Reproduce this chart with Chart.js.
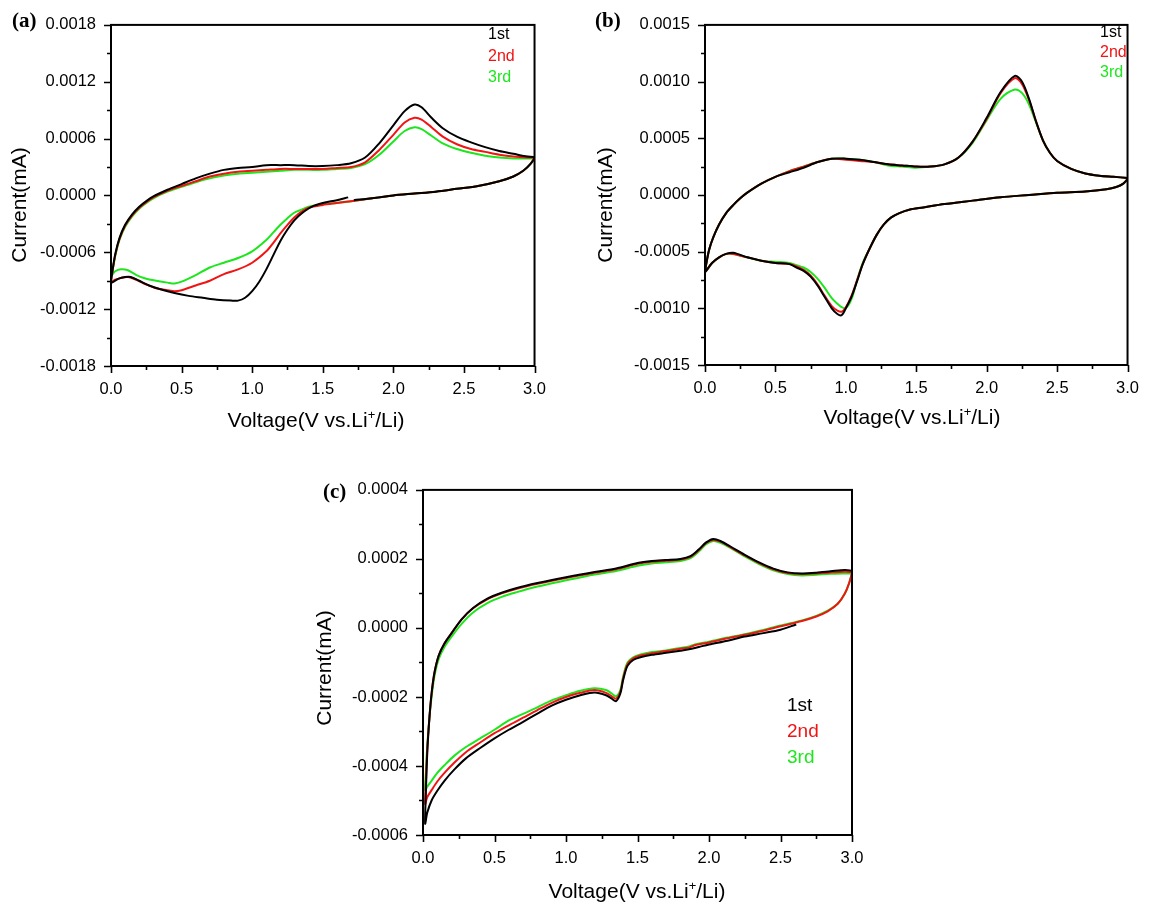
<!DOCTYPE html>
<html>
<head>
<meta charset="utf-8">
<script src="https://cdn.jsdelivr.net/npm/chart.js@4.4.1/dist/chart.umd.min.js"></script>
<style>
  html, body { margin: 0; padding: 0; background: #fff; }
  #wrap { position: relative; width: 1153px; height: 904px; overflow: hidden; }
  canvas { position: absolute; }
</style>
</head>
<body>
<div id="wrap">
  <canvas id="chartA" style="left:0px;top:0px;width:560px;height:440px" width="560" height="440"></canvas>
  <canvas id="chartB" style="left:580px;top:0px;width:573px;height:440px" width="573" height="440"></canvas>
  <canvas id="chartC" style="left:300px;top:465px;width:580px;height:439px" width="580" height="439"></canvas>
</div>
<script>
// series names (legend) //
const cycles = ["1st", "2nd", "3rd"];

// ---- panel (a) ----
// 1st cycle: from OCV down to 0 V, up to 3 V, back down
const a1V = [1.68, 1.6, 1.5, 1.42, 1.35, 1.3, 1.25, 1.2, 1.15, 1.1, 1.05, 1.0, 0.95, 0.9, 0.85, 0.75, 0.65, 0.55, 0.45, 0.35, 0.27, 0.2, 0.14, 0.1, 0.05, 0.0,
  0.01, 0.03, 0.06, 0.1, 0.15, 0.2, 0.25, 0.3, 0.4, 0.5, 0.6, 0.7, 0.8, 0.9, 1.0, 1.1, 1.2, 1.3, 1.4, 1.5, 1.6, 1.7, 1.8, 1.9, 2.0, 2.08, 2.15, 2.2, 2.27, 2.35, 2.45, 2.55, 2.65, 2.75, 2.85, 2.95, 3.0,
  2.97, 2.92, 2.85, 2.75, 2.6, 2.45, 2.3, 2.15, 2.0, 1.85, 1.72];
const a1I = [-0.00002, -0.00005, -0.00008, -0.00012, -0.00019, -0.00026, -0.00036, -0.00048, -0.00063, -0.00078, -0.00091, -0.00101, -0.00108, -0.00111, -0.00111, -0.0011, -0.00108, -0.00106, -0.00103, -0.00099, -0.00095, -0.0009, -0.00086, -0.00086, -0.00088, -0.00092,
  -0.0008, -0.00062, -0.00045, -0.00031, -0.0002, -0.00012, -0.00006, -0.00001, 0.00006, 0.00012, 0.00018, 0.00023, 0.00027, 0.00029, 0.0003, 0.00032, 0.00032, 0.00032, 0.00031, 0.00031, 0.00032, 0.00034, 0.0004, 0.00055, 0.00074, 0.00089, 0.00096, 0.00093, 0.00082, 0.00071, 0.00062, 0.00056, 0.00051, 0.00047, 0.00044, 0.00041, 0.0004,
  0.00033, 0.00026, 0.0002, 0.00015, 0.0001, 0.00007, 0.00004, 0.00002, 0.0, -0.00003, -0.00005];
// 2nd / 3rd cycles share the voltage points
const aV = [3.0, 2.97, 2.92, 2.85, 2.75, 2.6, 2.45, 2.3, 2.15, 2.0, 1.85, 1.7, 1.6, 1.5, 1.4, 1.35, 1.3, 1.25, 1.2, 1.15, 1.1, 1.0, 0.9, 0.8, 0.7, 0.6, 0.5, 0.45, 0.4, 0.32, 0.25, 0.18, 0.12, 0.07, 0.03, 0.0,
  0.01, 0.03, 0.06, 0.1, 0.15, 0.2, 0.25, 0.3, 0.4, 0.5, 0.6, 0.7, 0.8, 0.9, 1.0, 1.1, 1.2, 1.3, 1.4, 1.5, 1.6, 1.7, 1.8, 1.9, 2.0, 2.08, 2.15, 2.2, 2.27, 2.35, 2.45, 2.55, 2.65, 2.75, 2.85, 2.95, 3.0];
const a2I = [0.0004, 0.00033, 0.00026, 0.0002, 0.00015, 0.0001, 0.00007, 0.00004, 0.00002, 0.0, -0.00003, -0.00006, -0.00008, -0.0001, -0.00013, -0.00017, -0.00023, -0.00031, -0.0004, -0.0005, -0.00059, -0.00071, -0.00078, -0.00083, -0.0009, -0.00095, -0.001, -0.00101, -0.001, -0.00098, -0.00094, -0.00089, -0.00086, -0.00087, -0.00089, -0.00091,
  -0.0008, -0.00063, -0.00046, -0.00032, -0.00021, -0.00013, -0.00007, -0.00002, 0.00005, 0.0001, 0.00015, 0.0002, 0.00023, 0.00025, 0.00026, 0.00027, 0.00028, 0.00028, 0.00028, 0.00028, 0.00029, 0.0003, 0.00035, 0.00048, 0.00064, 0.00077, 0.00082, 0.0008, 0.00072, 0.00062, 0.00054, 0.00049, 0.00046, 0.00043, 0.00041, 0.0004, 0.0004];
const a3I = [0.0004, 0.00033, 0.00026, 0.0002, 0.00015, 0.0001, 0.00007, 0.00004, 0.00002, 0.0, -0.00003, -0.00006, -0.00008, -0.00009, -0.00012, -0.00015, -0.00018, -0.00024, -0.00031, -0.00039, -0.00047, -0.00059, -0.00066, -0.00071, -0.00076, -0.00084, -0.00091, -0.00093, -0.00092, -0.0009, -0.00088, -0.00084, -0.00079, -0.00078, -0.0008, -0.00085,
  -0.0008, -0.00064, -0.00047, -0.00033, -0.00022, -0.00014, -0.00008, -0.00003, 0.00004, 0.00009, 0.00014, 0.00018, 0.00021, 0.00023, 0.00024, 0.00025, 0.00026, 0.00027, 0.00027, 0.00027, 0.00028, 0.00029, 0.00033, 0.00043, 0.00057, 0.00068, 0.00072, 0.0007, 0.00063, 0.00055, 0.00049, 0.00045, 0.00042, 0.0004, 0.00039, 0.00039, 0.00039];

// ---- panel (b) ----
const bV = [3.0, 2.97, 2.92, 2.85, 2.7, 2.5, 2.3, 2.1, 1.9, 1.7, 1.55, 1.45, 1.38, 1.32, 1.27, 1.22, 1.17, 1.12, 1.08, 1.04, 1.0, 0.97, 0.94, 0.9, 0.85, 0.8, 0.75, 0.7, 0.65, 0.6, 0.5, 0.4, 0.3, 0.2, 0.15, 0.1, 0.05, 0.0,
  0.01, 0.03, 0.06, 0.1, 0.15, 0.2, 0.25, 0.3, 0.4, 0.5, 0.6, 0.7, 0.8, 0.9, 1.0, 1.1, 1.2, 1.3, 1.4, 1.5, 1.6, 1.7, 1.8, 1.9, 2.0, 2.1, 2.2, 2.25, 2.3, 2.35, 2.4, 2.45, 2.5, 2.6, 2.7, 2.8, 2.9, 3.0];
const b1I = [0.00014, 0.0001, 0.00007, 0.00005, 0.00003, 0.00002, 0.0, -0.00002, -0.00005, -0.00008, -0.00011, -0.00013, -0.00016, -0.0002, -0.00026, -0.00035, -0.00047, -0.00061, -0.00076, -0.0009, -0.001, -0.00106, -0.00105, -0.001, -0.0009, -0.0008, -0.00072, -0.00067, -0.00064, -0.00061, -0.0006, -0.00058, -0.00055, -0.00051, -0.00052, -0.00055, -0.0006, -0.00068,
  -0.0006, -0.00048, -0.00037, -0.00026, -0.00016, -0.00009, -0.00003, 0.00002, 0.0001, 0.00016, 0.0002, 0.00024, 0.00029, 0.00032, 0.00032, 0.00031, 0.00029, 0.00027, 0.00026, 0.00025, 0.00025, 0.00027, 0.00033, 0.00047, 0.00068, 0.00091, 0.00105, 0.001, 0.00085, 0.00065, 0.00048, 0.00037, 0.0003, 0.00023, 0.00019, 0.00017, 0.00016, 0.00015];
const b2I = [0.00014, 0.0001, 0.00007, 0.00005, 0.00003, 0.00002, 0.0, -0.00002, -0.00005, -0.00008, -0.00011, -0.00013, -0.00016, -0.0002, -0.00026, -0.00035, -0.00047, -0.00061, -0.00075, -0.00089, -0.00099, -0.00103, -0.00102, -0.00098, -0.00089, -0.00079, -0.00071, -0.00066, -0.00063, -0.00061, -0.0006, -0.00058, -0.00055, -0.00052, -0.00052, -0.00055, -0.0006, -0.00068,
  -0.0006, -0.00048, -0.00037, -0.00026, -0.00016, -0.00009, -0.00003, 0.00002, 0.0001, 0.00016, 0.00021, 0.00025, 0.00029, 0.00032, 0.00031, 0.0003, 0.00029, 0.00027, 0.00026, 0.00025, 0.00025, 0.00027, 0.00033, 0.00047, 0.00067, 0.0009, 0.00103, 0.00098, 0.00084, 0.00065, 0.00048, 0.00037, 0.0003, 0.00023, 0.00019, 0.00017, 0.00016, 0.00015];
const b3I = [0.00014, 0.0001, 0.00007, 0.00005, 0.00003, 0.00002, 0.0, -0.00002, -0.00005, -0.00008, -0.00011, -0.00013, -0.00016, -0.0002, -0.00026, -0.00035, -0.00047, -0.0006, -0.00075, -0.00092, -0.001, -0.00099, -0.00096, -0.00091, -0.00082, -0.00074, -0.00068, -0.00064, -0.00062, -0.0006, -0.00059, -0.00058, -0.00055, -0.00052, -0.00052, -0.00055, -0.0006, -0.00068,
  -0.0006, -0.00048, -0.00037, -0.00026, -0.00016, -0.00009, -0.00003, 0.00002, 0.0001, 0.00016, 0.00021, 0.00025, 0.00029, 0.00032, 0.00032, 0.00031, 0.00029, 0.00026, 0.00025, 0.00024, 0.00025, 0.00027, 0.00033, 0.00046, 0.00066, 0.00085, 0.00093, 0.0009, 0.0008, 0.00064, 0.00048, 0.00037, 0.0003, 0.00023, 0.00019, 0.00017, 0.00016, 0.00015];

// ---- panel (c) ----
// 1st cycle starts at OCV (~2.6 V)
const c1V = [2.61, 2.5, 2.38, 2.25, 2.13, 2.0, 1.93, 1.86, 1.8, 1.7, 1.6, 1.52, 1.47, 1.43, 1.4, 1.38, 1.35, 1.32, 1.28, 1.2, 1.1, 1.0, 0.9, 0.8, 0.7, 0.6, 0.5, 0.4, 0.3, 0.22, 0.15, 0.1, 0.06, 0.03, 0.015,
  0.02, 0.03, 0.045, 0.06, 0.08, 0.11, 0.15, 0.2, 0.27, 0.35, 0.45, 0.55, 0.65, 0.8, 1.0, 1.2, 1.35, 1.5, 1.6, 1.7, 1.8, 1.87, 1.93, 1.98, 2.03, 2.08, 2.15, 2.25, 2.35, 2.45, 2.55, 2.65, 2.75, 2.85, 2.95, 3.0];
const c1I = [0.00001, -0.000005, -0.000015, -0.000025, -0.000037, -0.000048, -0.000055, -0.000062, -0.000066, -0.000072, -0.000078, -0.000085, -0.000093, -0.00011, -0.00015, -0.00019, -0.000212, -0.000205, -0.000195, -0.000187, -0.000195, -0.000208, -0.000225, -0.000248, -0.000272, -0.000295, -0.00032, -0.000348, -0.000378, -0.00041, -0.000443, -0.000472, -0.0005, -0.000535, -0.000567,
  -0.00048, -0.00036, -0.00026, -0.00019, -0.00013, -0.00008, -0.000045, -0.000015, 0.000025, 0.000058, 0.000085, 0.000102, 0.000115, 0.00013, 0.000147, 0.000162, 0.000172, 0.000188, 0.000194, 0.000197, 0.0002, 0.000208, 0.000228, 0.000248, 0.000258, 0.000252, 0.000236, 0.000212, 0.00019, 0.000172, 0.000161, 0.000158, 0.00016, 0.000164, 0.000168, 0.000166];
const cV = [3.0, 2.98, 2.95, 2.9, 2.83, 2.75, 2.65, 2.5, 2.38, 2.25, 2.13, 2.0, 1.9, 1.86, 1.8, 1.7, 1.6, 1.52, 1.47, 1.43, 1.4, 1.38, 1.35, 1.32, 1.28, 1.2, 1.1, 1.0, 0.9, 0.8, 0.7, 0.6, 0.5, 0.4, 0.3, 0.22, 0.15, 0.1, 0.06, 0.03, 0.015,
  0.02, 0.03, 0.045, 0.06, 0.08, 0.11, 0.15, 0.2, 0.27, 0.35, 0.45, 0.55, 0.65, 0.8, 1.0, 1.2, 1.35, 1.5, 1.6, 1.7, 1.8, 1.87, 1.93, 1.98, 2.03, 2.08, 2.15, 2.25, 2.35, 2.45, 2.55, 2.65, 2.75, 2.85, 2.95, 3.0];
const c2I = [0.00016, 0.00013, 0.0001, 0.00007, 0.000048, 0.000033, 0.00002, 0.000005, -0.000008, -0.00002, -0.00003, -0.000042, -0.00005, -0.000057, -0.00006, -0.000067, -0.000073, -0.00008, -0.000088, -0.000105, -0.000145, -0.000185, -0.000205, -0.000198, -0.000188, -0.00018, -0.000188, -0.0002, -0.000217, -0.000238, -0.00026, -0.000282, -0.000305, -0.000332, -0.00036, -0.00039, -0.00042, -0.000445, -0.00047, -0.00049, -0.00051,
  -0.00045, -0.00035, -0.00026, -0.00019, -0.00013, -0.00008, -0.000045, -0.000015, 0.000025, 0.000057, 0.000083, 0.0001, 0.000113, 0.000128, 0.000145, 0.00016, 0.00017, 0.000186, 0.000192, 0.000195, 0.000198, 0.000206, 0.000226, 0.000246, 0.000255, 0.00025, 0.000234, 0.00021, 0.000188, 0.00017, 0.000159, 0.000156, 0.000158, 0.000161, 0.000163, 0.000162];
const c3I = [0.000158, 0.00013, 0.0001, 0.00007, 0.00005, 0.000035, 0.000022, 0.000007, -0.000006, -0.000018, -0.000028, -0.00004, -0.000048, -0.000054, -0.000058, -0.000065, -0.00007, -0.000077, -0.000085, -0.0001, -0.00014, -0.00018, -0.000198, -0.00019, -0.00018, -0.000175, -0.000182, -0.000195, -0.00021, -0.00023, -0.000249, -0.000268, -0.000295, -0.00032, -0.000345, -0.00037, -0.000398, -0.00042, -0.000443, -0.00046, -0.00047,
  -0.00042, -0.00034, -0.00026, -0.0002, -0.00014, -0.00009, -0.000055, -0.000025, 0.000012, 0.000045, 0.000072, 0.00009, 0.000103, 0.00012, 0.000138, 0.000155, 0.000165, 0.00018, 0.000187, 0.00019, 0.000194, 0.000202, 0.000222, 0.000243, 0.000252, 0.000247, 0.000232, 0.000207, 0.000185, 0.000167, 0.000156, 0.000152, 0.000154, 0.000157, 0.000158, 0.000158];

const colors = ["#000000", "#f01414", "#1ee61e"];
const sans = "'Liberation Sans', Arial, sans-serif";
const serif = "'Liberation Serif', 'Times New Roman', serif";

function pts(vs, is) {
  return vs.map(function (v, k) { return { x: v, y: is[k] }; });
}

function isMajor(v, step) {
  const r = v / step;
  return Math.abs(r - Math.round(r)) < 1e-6;
}

// frame, outward ticks, axis titles, legend text and panel letter
const decoPlugin = {
  id: "deco",
  afterDraw(chart, args, o) {
    const ctx = chart.ctx;
    const a = chart.chartArea;
    const xs = chart.scales.x, ys = chart.scales.y;
    ctx.save();
    ctx.strokeStyle = "#000";
    ctx.lineWidth = 1.6;
    ctx.beginPath();
    xs.ticks.forEach(function (t) {
      const p = Math.round(xs.getPixelForValue(t.value)) + 0.5;
      const len = isMajor(t.value, 0.5) ? 7 : 4;
      ctx.moveTo(p, a.bottom);
      ctx.lineTo(p, a.bottom + len);
    });
    ys.ticks.forEach(function (t) {
      const p = Math.round(ys.getPixelForValue(t.value)) + 0.5;
      const len = isMajor(t.value, o.yMajor) ? 7 : 4;
      ctx.moveTo(a.left, p);
      ctx.lineTo(a.left - len, p);
    });
    ctx.stroke();
    ctx.lineWidth = 2;
    ctx.strokeRect(a.left, a.top, a.right - a.left, a.bottom - a.top);

    // legend
    ctx.font = o.legendSize + "px " + sans;
    ctx.textAlign = "left";
    ctx.textBaseline = "middle";
    cycles.forEach(function (name, k) {
      ctx.fillStyle = colors[k];
      ctx.fillText(name, o.legendX, o.legendY + k * o.legendGap);
    });

    // y title
    ctx.fillStyle = "#000";
    ctx.save();
    ctx.translate(o.yTitle[0], o.yTitle[1]);
    ctx.rotate(-Math.PI / 2);
    ctx.font = o.titleSize + "px " + sans;
    ctx.textAlign = "center";
    ctx.textBaseline = "alphabetic";
    ctx.fillText("Current(mA)", 0, o.titleSize * 0.26);
    ctx.restore();

    // x title with superscript +
    const s = o.titleSize, ss = Math.round(s * 0.62);
    const p1 = "Voltage(V vs.Li", p2 = "+", p3 = "/Li)";
    ctx.font = s + "px " + sans;
    const w1 = ctx.measureText(p1).width, w3 = ctx.measureText(p3).width;
    ctx.font = ss + "px " + sans;
    const w2 = ctx.measureText(p2).width;
    let x = o.xTitle[0] - (w1 + w2 + w3) / 2;
    const base = o.xTitle[1] + s * 0.26;
    ctx.textAlign = "left";
    ctx.textBaseline = "alphabetic";
    ctx.font = s + "px " + sans;
    ctx.fillText(p1, x, base);
    x += w1;
    ctx.font = ss + "px " + sans;
    ctx.fillText(p2, x, base - s * 0.42);
    x += w2;
    ctx.font = s + "px " + sans;
    ctx.fillText(p3, x, base);

    // panel letter
    ctx.font = "bold 21px " + serif;
    ctx.fillText(o.letter, o.letterPos[0], o.letterPos[1] + 21 * 0.26);
    ctx.restore();
  }
};

function makePanel(id, series, p) {
  const datasets = series.map(function (d, k) {
    return {
      label: cycles[k],
      data: d,
      showLine: true,
      borderColor: colors[k],
      borderWidth: 2,
      pointRadius: 0,
      tension: 0.3,
      fill: false
    };
  });
  const tickFont = { family: sans, size: 16.5 };
  return new Chart(document.getElementById(id), {
    type: "scatter",
    data: { datasets: datasets },
    plugins: [decoPlugin],
    options: {
      responsive: false,
      animation: false,
      events: [],
      layout: { padding: { left: 0, top: p.top, right: p.right, bottom: 0 } },
      plugins: {
        legend: { display: false },
        tooltip: { enabled: false },
        deco: p.deco
      },
      scales: {
        x: {
          type: "linear",
          min: 0,
          max: 3,
          afterFit: function (s) { s.height = p.xH; },
          grid: { display: false, drawTicks: false },
          border: { display: false },
          ticks: {
            stepSize: 0.25,
            autoSkip: false,
            maxRotation: 0,
            padding: 14,
            color: "#000",
            font: tickFont,
            callback: function (v) { return isMajor(v, 0.5) ? v.toFixed(1) : ""; }
          }
        },
        y: {
          type: "linear",
          min: p.yMin,
          max: p.yMax,
          afterFit: function (s) { s.width = p.yW; },
          grid: { display: false, drawTicks: false },
          border: { display: false },
          ticks: {
            stepSize: p.yStep,
            autoSkip: false,
            padding: 15,
            color: "#000",
            font: tickFont,
            callback: function (v) {
              if (!isMajor(v, p.deco.yMajor)) return "";
              return (Math.abs(v) < 1e-10 ? 0 : v).toFixed(4);
            }
          }
        }
      }
    }
  });
}

makePanel("chartA", [pts(a1V, a1I), pts(aV, a2I), pts(aV, a3I)], {
  top: 17, right: 21, xH: 74, yW: 111,
  yMin: -0.0018, yMax: 0.0018, yStep: 0.0003,
  deco: {
    yMajor: 0.0006, letter: "(a)", letterPos: [12, 22],
    legendX: 488, legendY: 35, legendGap: 21.5, legendSize: 16,
    titleSize: 21, yTitle: [21, 205], xTitle: [316, 422]
  }
});

makePanel("chartB", [pts(bV, b1I), pts(bV, b2I), pts(bV, b3I)], {
  top: 15, right: 18, xH: 75, yW: 125,
  yMin: -0.0015, yMax: 0.0015, yStep: 0.00025,
  deco: {
    yMajor: 0.0005, letter: "(b)", letterPos: [15, 22],
    legendX: 520, legendY: 33, legendGap: 20, legendSize: 16,
    titleSize: 21, yTitle: [27, 205], xTitle: [332, 419]
  }
});

makePanel("chartC", [pts(c1V, c1I), pts(cV, c2I), pts(cV, c3I)], {
  top: 20, right: 28, xH: 69, yW: 123,
  yMin: -0.0006, yMax: 0.0004, yStep: 0.0001,
  deco: {
    yMajor: 0.0002, letter: "(c)", letterPos: [23, 28],
    legendX: 487, legendY: 241, legendGap: 26, legendSize: 19,
    titleSize: 21, yTitle: [26, 203], xTitle: [337, 428]
  }
});
</script>
</body>
</html>
